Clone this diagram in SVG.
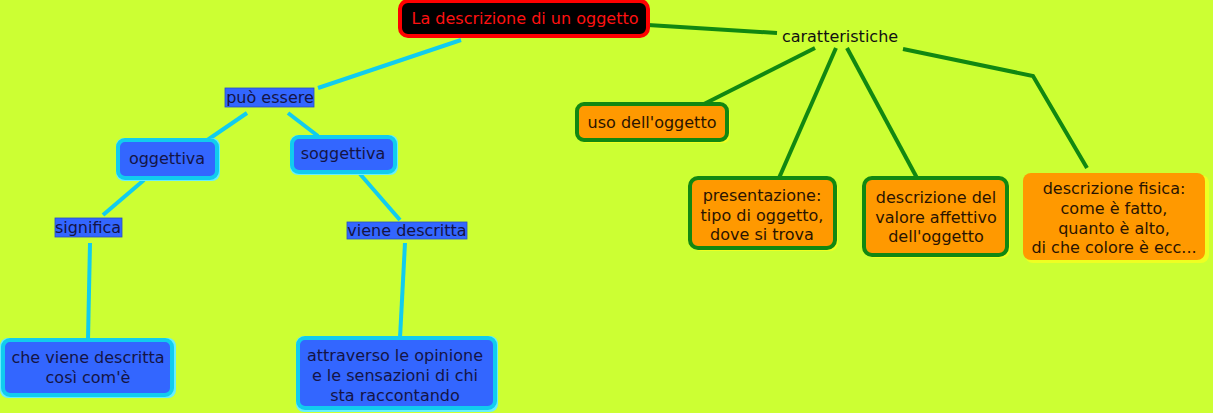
<svg xmlns="http://www.w3.org/2000/svg" width="1213" height="413" viewBox="0 0 1213 413">
<style>
text{font-family:"DejaVu Sans","Verdana",sans-serif;font-size:16px;text-anchor:middle;dominant-baseline:central}
.bt{fill:#141446}
.ot{fill:#2a1400}
.blue{fill:#3366FF;stroke:#11CCEE;stroke-width:4}
.bsh{fill:#66EEFF}
.lbl{fill:#3366FF;stroke:#2850C0;stroke-width:0.8}
.org{fill:#FF9900;stroke:#118811;stroke-width:4}
.osh{fill:#EEFF22}
.cy{stroke:#11CCEE;stroke-width:4;fill:none}
.gr{stroke:#118811;stroke-width:4;fill:none}
</style>
<rect width="1213" height="413" fill="#CCFF33"/>
<g id="connectors">
<line class="gr" x1="648" y1="25" x2="777" y2="33"/>
<line class="gr" x1="815" y1="48" x2="702" y2="105"/>
<line class="gr" x1="836" y1="48" x2="779" y2="178"/>
<line class="gr" x1="847" y1="48" x2="917" y2="178"/>
<polyline class="gr" points="903,49 1033,76 1087,168"/>
<line class="cy" x1="461" y1="40" x2="318" y2="88"/>
<line class="cy" x1="247" y1="113" x2="203" y2="143"/>
<line class="cy" x1="288" y1="113" x2="318" y2="136"/>
<line class="cy" x1="144" y1="180" x2="103" y2="215"/>
<line class="cy" x1="90" y1="243" x2="88" y2="340"/>
<line class="cy" x1="360" y1="174" x2="400" y2="220"/>
<line class="cy" x1="405" y1="243" x2="400" y2="338"/>
</g>
<g id="title">
<rect x="400" y="1" width="248" height="35" rx="8" fill="#000" stroke="#FF0000" stroke-width="4"/>
<text x="525" y="18" fill="#FF1111">La descrizione di un oggetto</text>
</g>
<g id="caratteristiche">
<text x="840" y="36" fill="#111">caratteristiche</text>
</g>
<g id="uso">
<rect class="osh" x="580" y="107" width="150" height="36" rx="7"/>
<rect class="org" x="577" y="104" width="150" height="36" rx="7"/>
<text class="ot" x="652" y="122">uso dell'oggetto</text>
</g>
<g id="presentazione">
<rect class="osh" x="693" y="181" width="145" height="70" rx="8"/>
<rect class="org" x="690" y="178" width="145" height="70" rx="8"/>
<text class="ot" x="762" y="195">presentazione:</text>
<text class="ot" x="762" y="215">tipo di oggetto,</text>
<text class="ot" x="762" y="234">dove si trova</text>
</g>
<g id="valore">
<rect class="osh" x="867" y="181" width="143" height="77" rx="8"/>
<rect class="org" x="864" y="178" width="143" height="77" rx="8"/>
<text class="ot" x="936" y="197">descrizione del</text>
<text class="ot" x="936" y="217">valore affettivo</text>
<text class="ot" x="936" y="236">dell'oggetto</text>
</g>
<g id="fisica">
<rect class="osh" x="1025" y="175" width="184" height="88" rx="8"/>
<rect x="1023" y="173" width="182" height="87" rx="8" fill="#FF9900"/>
<text class="ot" x="1114" y="188">descrizione fisica:</text>
<text class="ot" x="1114" y="208">come è fatto,</text>
<text class="ot" x="1114" y="228">quanto è alto,</text>
<text class="ot" x="1114" y="247">di che colore è ecc...</text>
</g>
<g id="puo-essere">
<rect class="lbl" x="225" y="88" width="89" height="19"/>
<text class="bt" x="270" y="97">può essere</text>
</g>
<g id="oggettiva">
<rect class="bsh" x="116" y="138" width="104" height="43" rx="8"/>
<rect class="blue" x="118" y="140" width="99" height="38" rx="7"/>
<text class="bt" x="167" y="158">oggettiva</text>
</g>
<g id="soggettiva">
<rect class="bsh" x="290" y="135" width="108" height="40" rx="8"/>
<rect class="blue" x="292" y="137" width="103" height="35" rx="7"/>
<text class="bt" x="343" y="153">soggettiva</text>
</g>
<g id="significa">
<rect class="lbl" x="55" y="218" width="67" height="19"/>
<text class="bt" x="88" y="227">significa</text>
</g>
<g id="viene-descritta">
<rect class="lbl" x="347" y="222" width="120" height="17"/>
<text class="bt" x="407" y="230">viene descritta</text>
</g>
<g id="che-viene">
<rect class="bsh" x="0" y="338" width="176" height="60" rx="8"/>
<rect class="blue" x="3" y="340" width="169" height="55" rx="7"/>
<text class="bt" x="88" y="357">che viene descritta</text>
<text class="bt" x="88" y="377">così com'è</text>
</g>
<g id="attraverso">
<rect class="bsh" x="296" y="336" width="202" height="76" rx="8"/>
<rect class="blue" x="298" y="338" width="197" height="70" rx="7"/>
<text class="bt" x="395" y="355">attraverso le opinione</text>
<text class="bt" x="395" y="375">e le sensazioni di chi</text>
<text class="bt" x="395" y="395">sta raccontando</text>
</g>
</svg>
